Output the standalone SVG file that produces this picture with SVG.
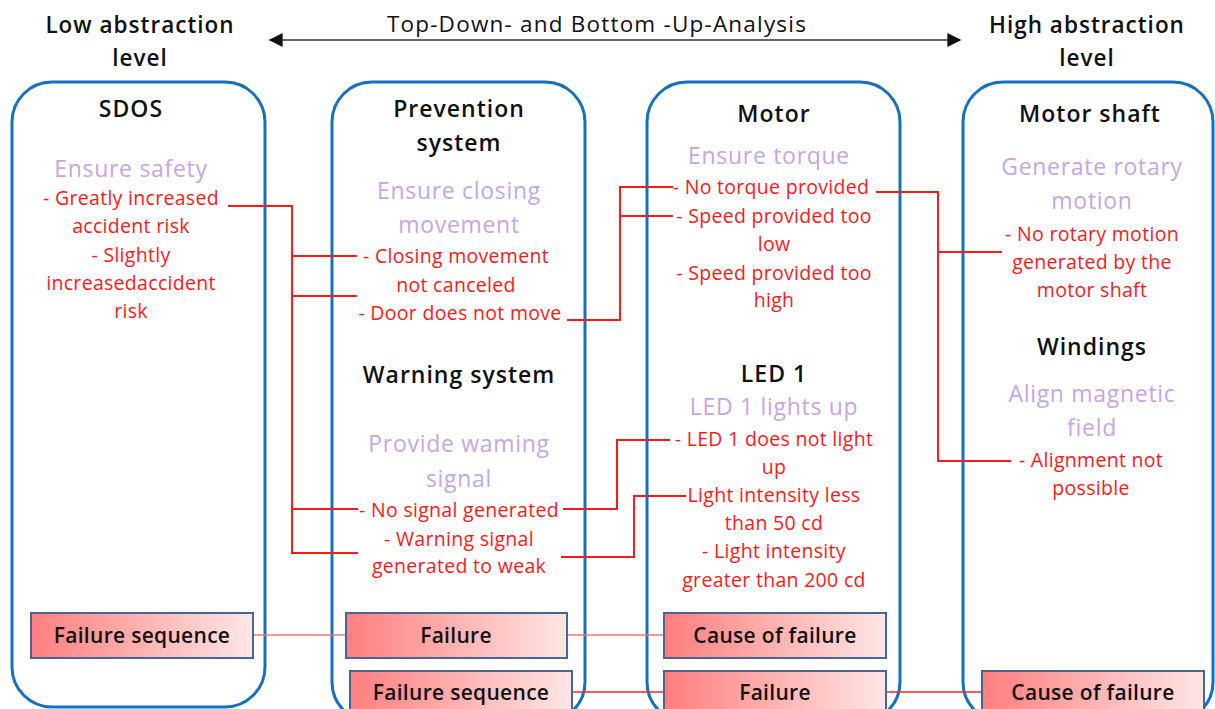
<svg xmlns="http://www.w3.org/2000/svg" width="1215" height="709" viewBox="0 0 1215 709">
  <style>
    text { font-family: "Open Sans", "Liberation Sans", sans-serif; text-anchor: middle; }
    .hdr { font-size: 22.5px; font-weight: 600; fill: #111; letter-spacing: 1px; }
    .axl { font-size: 22.5px; fill: #111; letter-spacing: 1.2px; }
    .ttl { font-size: 23px; font-weight: 600; fill: #111; letter-spacing: 1px; }
    .fn { font-size: 23px; fill: #C6A6E4; letter-spacing: 0.7px; }
    .fm { font-size: 19.5px; fill: #FF1A1A; letter-spacing: 0.3px; }
    .lbl { font-size: 21px; font-weight: 600; fill: #111; letter-spacing: 0.3px; }
    .col { fill: #fff; stroke: #1570C0; stroke-width: 3; }
    .fbox { fill: url(#pink); stroke: #4A6496; stroke-width: 2; }
    .link { fill: none; stroke: #FF1A1A; stroke-width: 2; }
    .seq1 { stroke: #F07878; stroke-width: 1.6; }
    .seq2 { stroke: #FF2A2A; stroke-width: 1.6; }
  </style>
  <defs>
    <linearGradient id="pink" x1="0" y1="0" x2="1" y2="0">
      <stop offset="0" stop-color="#FF7E7E"/>
      <stop offset="1" stop-color="#FFE6E6"/>
    </linearGradient>
    <marker id="head" viewBox="0 0 10 10" refX="9" refY="5" markerWidth="15" markerHeight="14" markerUnits="userSpaceOnUse" orient="auto-start-reverse">
      <path d="M0,0 L10,5 L0,10 z" fill="#111"/>
    </marker>
  </defs>

  <!-- abstraction axis -->
  <g id="axis">
    <text class="hdr" x="140" y="33">Low abstraction</text>
    <text class="hdr" x="140" y="66">level</text>
    <text class="axl" x="597" y="32">Top-Down- and Bottom -Up-Analysis</text>
    <text class="hdr" x="1087" y="33">High abstraction</text>
    <text class="hdr" x="1087" y="66">level</text>
    <line x1="270" y1="40" x2="960" y2="40" stroke="#333" stroke-width="1.6" marker-start="url(#head)" marker-end="url(#head)"/>
  </g>

  <!-- column frames -->
  <g id="col-sdos"><rect class="col" x="12" y="82" width="253" height="625" rx="40"/></g>
  <g id="col-systems"><rect class="col" x="332" y="82" width="253" height="640" rx="40"/></g>
  <g id="col-components"><rect class="col" x="647" y="82" width="253" height="640" rx="40"/></g>
  <g id="col-parts"><rect class="col" x="963" y="82" width="250" height="640" rx="40"/></g>

  <!-- connectors -->
  <g id="connectors">
    <path class="link" d="M228,206 H292 V553 H358 M292,256 H357 M292,296 H357 M292,509 H358"/>
    <path class="link" d="M567,320 H620 V187 H673 M620,216 H673"/>
    <path class="link" d="M563,509 H617 V440 H670"/>
    <path class="link" d="M561,557 H634 V496 H686"/>
    <path class="link" d="M876,192 H938 V461 H1011 M938,252 H1002"/>
    <line class="seq1" x1="253" y1="635" x2="346" y2="635"/>
    <line class="seq1" x1="567" y1="635" x2="664" y2="635"/>
    <line class="seq2" x1="572" y1="692" x2="664" y2="692"/>
    <line class="seq2" x1="886" y1="692" x2="982" y2="692"/>
  </g>

  <!-- SDOS -->
  <g id="sdos">
    <text class="ttl" x="131" y="117">SDOS</text>
    <text class="fn" x="131" y="177">Ensure safety</text>
    <text class="fm" x="131" y="205">- Greatly increased</text>
    <text class="fm" x="131" y="233">accident risk</text>
    <text class="fm" x="131" y="262">- Slightly</text>
    <text class="fm" x="131" y="290">increasedaccident</text>
    <text class="fm" x="131" y="318">risk</text>
  </g>

  <!-- Prevention system -->
  <g id="prevention-system">
    <text class="ttl" x="459" y="117">Prevention</text>
    <text class="ttl" x="459" y="151">system</text>
    <text class="fn" x="459" y="199">Ensure closing</text>
    <text class="fn" x="459" y="233">movement</text>
    <text class="fm" x="456" y="263">- Closing movement</text>
    <text class="fm" x="456" y="292">not canceled</text>
    <text class="fm" x="460" y="320">- Door does not move</text>
  </g>

  <!-- Warning system -->
  <g id="warning-system">
    <text class="ttl" x="459" y="383">Warning system</text>
    <text class="fn" x="459" y="452">Provide waming</text>
    <text class="fn" x="459" y="487">signal</text>
    <text class="fm" x="459" y="517">- No signal generated</text>
    <text class="fm" x="459" y="546">- Warning signal</text>
    <text class="fm" x="459" y="573">generated to weak</text>
  </g>

  <!-- Motor -->
  <g id="motor">
    <text class="ttl" x="774" y="122">Motor</text>
    <text class="fn" x="769" y="164">Ensure torque</text>
    <text class="fm" x="771" y="194">- No torque provided</text>
    <text class="fm" x="774" y="223">- Speed provided too</text>
    <text class="fm" x="774" y="251">low</text>
    <text class="fm" x="774" y="280">- Speed provided too</text>
    <text class="fm" x="774" y="307">high</text>
  </g>

  <!-- LED 1 -->
  <g id="led1">
    <text class="ttl" x="774" y="382">LED 1</text>
    <text class="fn" x="774" y="415">LED 1 lights up</text>
    <text class="fm" x="774" y="446">- LED 1 does not light</text>
    <text class="fm" x="774" y="474">up</text>
    <text class="fm" x="774" y="502">Light intensity less</text>
    <text class="fm" x="774" y="530">than 50 cd</text>
    <text class="fm" x="774" y="558">- Light intensity</text>
    <text class="fm" x="774" y="587">greater than 200 cd</text>
  </g>

  <!-- Motor shaft -->
  <g id="motor-shaft">
    <text class="ttl" x="1090" y="122">Motor shaft</text>
    <text class="fn" x="1092" y="175">Generate rotary</text>
    <text class="fn" x="1092" y="209">motion</text>
    <text class="fm" x="1092" y="241">- No rotary motion</text>
    <text class="fm" x="1092" y="269">generated by the</text>
    <text class="fm" x="1092" y="297">motor shaft</text>
  </g>

  <!-- Windings -->
  <g id="windings">
    <text class="ttl" x="1092" y="355">Windings</text>
    <text class="fn" x="1092" y="402">Align magnetic</text>
    <text class="fn" x="1092" y="436">field</text>
    <text class="fm" x="1091" y="467">- Alignment not</text>
    <text class="fm" x="1091" y="495">possible</text>
  </g>

  <!-- failure chain labels -->
  <g id="sdos-failure-sequence">
    <rect class="fbox" x="31" y="613" width="222" height="45"/>
    <text class="lbl" x="142" y="643">Failure sequence</text>
  </g>
  <g id="system-failure">
    <rect class="fbox" x="346" y="613" width="221" height="45"/>
    <text class="lbl" x="456" y="643">Failure</text>
  </g>
  <g id="component-cause">
    <rect class="fbox" x="664" y="613" width="222" height="45"/>
    <text class="lbl" x="775" y="643">Cause of failure</text>
  </g>
  <g id="system-failure-sequence">
    <rect class="fbox" x="350" y="671" width="222" height="45"/>
    <text class="lbl" x="461" y="700">Failure sequence</text>
  </g>
  <g id="component-failure">
    <rect class="fbox" x="664" y="671" width="222" height="45"/>
    <text class="lbl" x="775" y="700">Failure</text>
  </g>
  <g id="part-cause">
    <rect class="fbox" x="982" y="671" width="222" height="45"/>
    <text class="lbl" x="1093" y="700">Cause of failure</text>
  </g>
</svg>
